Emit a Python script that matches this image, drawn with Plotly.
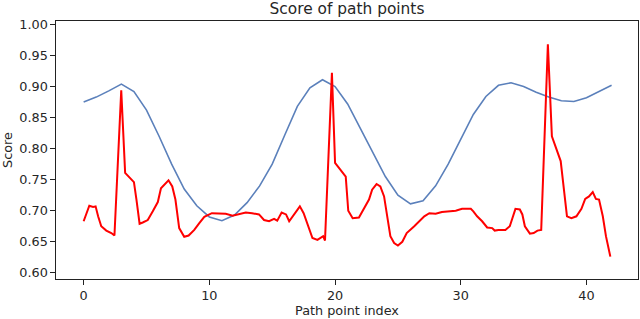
import plotly.graph_objects as go

# Blue curve (smooth score), one value per path point index
blue_x = list(range(43))
blue_y = [0.875, 0.883, 0.893, 0.904, 0.892, 0.862, 0.820, 0.775, 0.735, 0.708,
          0.690, 0.684, 0.693, 0.713, 0.740, 0.775, 0.822, 0.868, 0.898, 0.911,
          0.900, 0.872, 0.833, 0.795, 0.755, 0.725, 0.711, 0.716, 0.740, 0.775,
          0.815, 0.855, 0.884, 0.902, 0.906, 0.900, 0.891, 0.883, 0.877, 0.876,
          0.882, 0.892, 0.902]

# Red curve (raw score)
red_x = [0.0, 0.2, 0.45, 0.75, 0.95, 1.15, 1.4, 1.8, 2.2, 2.45,
         2.99, 3.3, 3.6, 4.0, 4.2, 4.45, 4.7, 5.1, 5.5, 5.9,
         6.15, 6.45, 6.75, 7.05, 7.3, 7.6, 8.0, 8.35, 8.8, 9.2,
         9.6, 10.2, 10.8, 11.3, 11.85, 12.4, 12.9, 13.4, 13.95, 14.35,
         14.75, 15.15, 15.4, 15.75, 16.1, 16.35, 16.75, 17.2, 17.5, 17.9,
         18.2, 18.6, 18.85, 19.05, 19.2, 19.75, 20.0, 20.55, 20.85, 21.05,
         21.4, 21.9, 22.3, 22.7, 22.95, 23.3, 23.6, 23.9, 24.15, 24.4,
         24.7, 25.0, 25.35, 25.7, 26.3, 26.7, 27.1, 27.5, 28.0, 28.5,
         29.05, 29.6, 30.1, 30.8, 31.0, 31.3, 31.7, 32.1, 32.5, 32.7,
         33.0, 33.55, 33.9, 34.1, 34.35, 34.7, 34.9, 35.1, 35.5, 35.8,
         36.1, 36.4, 36.93, 37.25, 37.6, 37.95, 38.45, 38.8, 39.2, 39.6,
         39.9, 40.2, 40.5, 40.75, 41.0, 41.3, 41.55, 41.9]
red_y = [0.683, 0.695, 0.708, 0.706, 0.707, 0.691, 0.675, 0.668, 0.664, 0.660,
         0.894, 0.761, 0.755, 0.746, 0.718, 0.679, 0.681, 0.685, 0.699, 0.714,
         0.736, 0.743, 0.749, 0.739, 0.718, 0.672, 0.658, 0.660, 0.669, 0.680,
         0.690, 0.696, 0.695, 0.695, 0.692, 0.695, 0.697, 0.696, 0.694, 0.685,
         0.683, 0.687, 0.684, 0.697, 0.694, 0.683, 0.694, 0.707, 0.696, 0.672,
         0.656, 0.653, 0.656, 0.659, 0.652, 0.922, 0.777, 0.762, 0.755, 0.700,
         0.688, 0.689, 0.703, 0.718, 0.734, 0.743, 0.739, 0.723, 0.691, 0.659,
         0.648, 0.644, 0.650, 0.664, 0.675, 0.683, 0.691, 0.696, 0.695, 0.698,
         0.699, 0.700, 0.703, 0.703, 0.699, 0.691, 0.683, 0.673, 0.672, 0.668,
         0.669, 0.669, 0.675, 0.688, 0.703, 0.702, 0.694, 0.675, 0.663, 0.664,
         0.668, 0.669, 0.968, 0.820, 0.801, 0.780, 0.691, 0.688, 0.691, 0.703,
         0.719, 0.723, 0.730, 0.719, 0.718, 0.691, 0.659, 0.626]

x_ticks = [0, 10, 20, 30, 40]
y_ticks = [0.60, 0.65, 0.70, 0.75, 0.80, 0.85, 0.90, 0.95, 1.00]

fig = go.Figure()
fig.add_trace(go.Scatter(x=blue_x, y=blue_y, mode="lines",
                         line=dict(color="#5b80bb", width=1.6), showlegend=False))
fig.add_trace(go.Scatter(x=red_x, y=red_y, mode="lines",
                         line=dict(color="#ff0000", width=2), showlegend=False))

font = "DejaVu Sans, sans-serif"
txt = "#262626"
axis_common = dict(showline=True, linecolor="#222", linewidth=1.2, mirror=True,
                   showgrid=False, zeroline=False, ticks="outside", ticklen=4.5,
                   tickwidth=1.2, tickcolor="#222",
                   tickfont=dict(family=font, size=12.8, color=txt))

fig.update_layout(
    width=640, height=319,
    margin=dict(l=56, r=2, t=21, b=40),
    paper_bgcolor="white", plot_bgcolor="white",
    title=dict(text="Score of path points", x=0.5, xanchor="center", xref="paper",
               yref="container", y=1 - 8.5 / 319, yanchor="middle",
               font=dict(family=font, size=15.4, color=txt)),
    xaxis=dict(range=[-2.2, 44.1], tickvals=x_ticks,
               title=dict(text="Path point index", font=dict(family=font, size=12.8, color=txt),
                          standoff=2),
               **axis_common),
    yaxis=dict(range=[0.59, 1.0056], tickvals=y_ticks, tickformat=".2f",
               title=dict(text="Score", font=dict(family=font, size=12.8, color=txt),
                          standoff=3),
               **axis_common),
)

fig.write_html("out.html", config={"displayModeBar": False},
               post_script="document.body.style.margin='0';document.body.style.overflow='hidden';")
